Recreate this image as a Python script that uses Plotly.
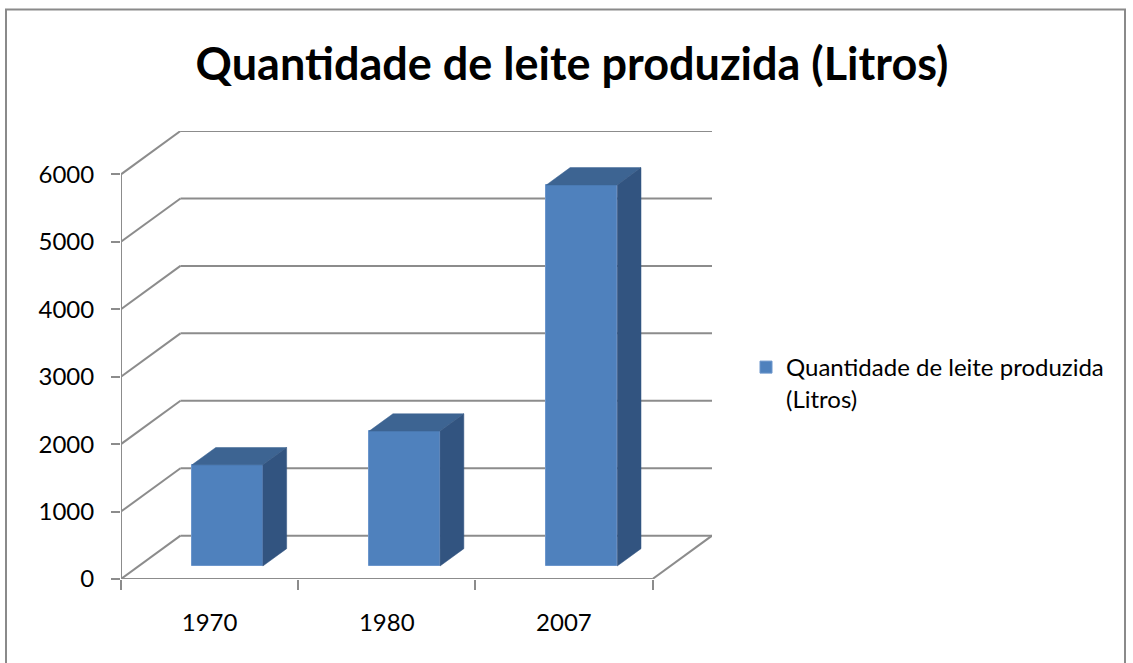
import plotly.graph_objects as go

# ---- data ----
categories = ["1970", "1980", "2007"]
values = [1500, 2000, 5650]
y_ticks = [0, 1000, 2000, 3000, 4000, 5000, 6000]
title_text = "Quantidade de leite produzida (Litros)"

# ---- 3D oblique projection constants (in axis units) ----
DX = 0.3356      # depth shift along x (category units)
DY = 642.5       # depth shift along y (value units)
D0, D1 = 0.3, 0.7  # bar depth span (fraction of floor depth)
BW = 0.4         # bar width (category units)

FRONT = "#4f81bd"
TOP = "#3d6492"
SIDE = "#325480"
GRID = "#8c8c8c"
FONT = "Lato"

n = len(categories)
ymax = y_ticks[-1]

fig = go.Figure()

# front faces of bars (real bars)
fig.add_trace(go.Bar(
    x=[i + 0.5 + D0 * DX for i in range(n)],
    y=values,
    base=D0 * DY,
    width=BW,
    marker=dict(color=FRONT, line=dict(color="#6c96cc", width=1)),
    name="Quantidade de leite produzida<br>(Litros)",
    showlegend=True,
    hoverinfo="skip",
))

# top and side faces
for i, v in enumerate(values):
    xl = i + 0.5 - BW / 2 + D0 * DX
    xr = xl + BW
    yb = D0 * DY
    yt = v + D0 * DY
    ddx = (D1 - D0) * DX
    ddy = (D1 - D0) * DY
    fig.add_trace(go.Scatter(
        x=[xl, xr, xr + ddx, xl + ddx, xl],
        y=[yt, yt, yt + ddy, yt + ddy, yt],
        fill="toself", fillcolor=TOP, mode="lines",
        line=dict(color=TOP, width=0.5), showlegend=False, hoverinfo="skip"))
    fig.add_trace(go.Scatter(
        x=[xr, xr + ddx, xr + ddx, xr, xr],
        y=[yb, yb + ddy, yt + ddy, yt, yb],
        fill="toself", fillcolor=SIDE, mode="lines",
        line=dict(color=SIDE, width=0.5), showlegend=False, hoverinfo="skip"))

shapes = []
line_style = dict(color=GRID, width=2)
# back wall gridlines + diagonal connectors on the left wall
for t in y_ticks:
    shapes.append(dict(type="line", xref="x", yref="y", layer="below",
                       x0=DX, y0=t + DY, x1=n + DX, y1=t + DY, line=line_style))
    shapes.append(dict(type="line", xref="x", yref="y", layer="below",
                       x0=0, y0=t, x1=DX, y1=t + DY, line=line_style))
# front value axis line
shapes.append(dict(type="line", xref="x", yref="y", layer="below",
                   x0=0, y0=0, x1=0, y1=ymax, line=line_style))
# front floor edge and right floor edge
shapes.append(dict(type="line", xref="x", yref="y", layer="below",
                   x0=0, y0=0, x1=n, y1=0, line=line_style))
shapes.append(dict(type="line", xref="x", yref="y", layer="below",
                   x0=n, y0=0, x1=n + DX, y1=DY, line=line_style))

# chart border
L, R, T, B = 121, 421, 131, 84
W, H = 1133, 663
pw = W - L - R
ph = H - T - B
def px2paper_x(px):
    return (px - L) / pw
def px2paper_y(py):
    return (H - B - py) / ph
shapes.append(dict(type="rect", xref="paper", yref="paper", layer="above",
                   x0=px2paper_x(6), x1=px2paper_x(1125),
                   y0=px2paper_y(668), y1=px2paper_y(9.5),
                   line=dict(color="#8a8a8a", width=2), fillcolor="rgba(0,0,0,0)"))

fig.update_layout(
    width=W, height=H,
    margin=dict(l=L, r=R, t=T, b=B),
    paper_bgcolor="white", plot_bgcolor="white",
    shapes=shapes,
    title=dict(text=f"<b>{title_text}</b>", x=572 / W, xref="container",
               xanchor="center", y=1 - 64 / H, yref="container", yanchor="middle",
               font=dict(family=FONT, size=45, color="#000000")),
    xaxis=dict(range=[0, n + DX], showgrid=False, zeroline=False, showline=False,
               tickvals=[i + 0.5 for i in range(n)], ticktext=categories,
               ticks="", ticklabelstandoff=27,
               tickfont=dict(family=FONT, size=24, color="#000000"),
               minor=dict(tickvals=list(range(n + 1)), ticks="outside", ticklen=10,
                          tickwidth=2, tickcolor=GRID, showgrid=False),
               fixedrange=True),
    yaxis=dict(range=[0, ymax + DY], showgrid=False, zeroline=False, showline=False,
               tickvals=y_ticks, ticks="outside", ticklen=9, tickwidth=2, tickcolor=GRID,
               ticklabelstandoff=12,
               tickfont=dict(family=FONT, size=24, color="#000000"),
               fixedrange=True),
    legend=dict(x=px2paper_x(746), xanchor="left", y=px2paper_y(345), yanchor="top",
                font=dict(family=FONT, size=24, color="#000000"), valign="top",
                bgcolor="rgba(0,0,0,0)", itemwidth=30, tracegroupgap=0),
    bargap=0,
    showlegend=True,
)

fig.write_html("out.html", config={"displayModeBar": False},
               post_script="document.body.style.margin='0';")
